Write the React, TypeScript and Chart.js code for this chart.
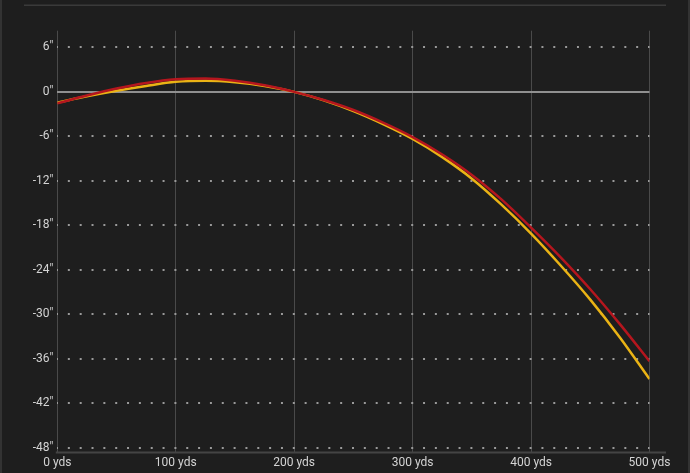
import { Chart, registerables } from 'chart.js';
import { useEffect, useRef } from 'react';

Chart.register(...registerables);

// range in yards, drop in inches
const ranges = [0, 25, 50, 75, 100, 125, 150, 175, 200, 225, 250, 275, 300, 325, 350, 375, 400, 425, 450, 475, 500];
const redDrop = [-1.55, -0.5, 0.45, 1.2, 1.7, 1.8, 1.5, 0.9, 0, -1.1, -2.45, -4.15, -6.1, -8.45, -11.2, -14.5, -18.3, -22.3, -26.6, -31.3, -36.3];
const yellowDrop = [-1.45, -0.6, 0.15, 0.8, 1.35, 1.5, 1.3, 0.8, 0, -1.15, -2.6, -4.35, -6.35, -8.8, -11.7, -15.2, -19.1, -23.4, -28.0, -33.1, -38.7];
const xTicks = [0, 100, 200, 300, 400, 500];
const yTicks = [6, 0, -6, -12, -18, -24, -30, -36, -42, -48];

const bg = '#1e1e1e';
const labelColor = '#d4d4d4';

const framePlugin = {
    id: 'frame',
    afterDraw(chart: Chart) {
        const { ctx, chartArea } = chart;
        ctx.save();
        ctx.fillStyle = '#3a3a3a';
        ctx.fillRect(24, 4.5, 642, 1.5);
        ctx.fillStyle = '#444';
        ctx.fillRect(chartArea.left - 1.5, chartArea.bottom - 0.5, 666 - chartArea.left + 1.5, 2);
        ctx.restore();
    },
};

export default function App() {
    const canvasRef = useRef<HTMLCanvasElement>(null);
    useEffect(() => {
        document.body.style.margin = '0';
        if (canvasRef.current === null) return;
        const ctx = canvasRef.current.getContext('2d');
        if (ctx === null) return;
        const chart = new Chart(ctx, {
            type: 'line',
            data: {
                datasets: [
                    {
                        label: 'red',
                        data: ranges.map((r, i) => ({ x: r, y: redDrop[i] })),
                        borderColor: '#b5161e',
                        borderWidth: 2.5,
                        pointRadius: 0,
                        cubicInterpolationMode: 'monotone',
                    },
                    {
                        label: 'yellow',
                        data: ranges.map((r, i) => ({ x: r, y: yellowDrop[i] })),
                        borderColor: '#eab315',
                        borderWidth: 2.5,
                        pointRadius: 0,
                        cubicInterpolationMode: 'monotone',
                    },
                ],
            },
            plugins: [framePlugin],
            options: {
                animation: false,
                responsive: true,
                maintainAspectRatio: false,
                layout: { padding: { top: 30.7, right: 40.5, left: 0, bottom: 0 } },
                plugins: {
                    legend: { display: false },
                    tooltip: { enabled: false },
                },
                scales: {
                    x: {
                        type: 'linear',
                        min: 0,
                        max: 500,
                        afterBuildTicks: (axis: any) => {
                            axis.ticks = xTicks.map((v) => ({ value: v }));
                        },
                        afterFit: (axis: any) => {
                            axis.height = 21;
                        },
                        ticks: {
                            color: labelColor,
                            font: { family: 'Roboto', size: 12 },
                            padding: 4,
                            maxRotation: 0,
                            callback: (v: any) => `${v} yds`,
                        },
                        grid: { color: '#4a4a4a', lineWidth: 1, drawTicks: false },
                        border: { display: false },
                    },
                    y: {
                        type: 'linear',
                        min: -48.54,
                        max: 8.24,
                        afterBuildTicks: (axis: any) => {
                            axis.ticks = yTicks.map((v) => ({ value: v }));
                        },
                        afterFit: (axis: any) => {
                            axis.width = 57.3;
                        },
                        ticks: {
                            color: labelColor,
                            font: { family: 'Roboto', size: 12 },
                            padding: 4,
                            callback: (v: any) => `${v}"`,
                        },
                        grid: {
                            drawTicks: false,
                            color: (c: any) => (c.tick && c.tick.value === 0 ? '#909090' : '#9a9a9a'),
                            lineWidth: 2,
                        },
                        border: {
                            display: false,
                            dash: (c: any) => (c.tick && c.tick.value === 0 ? [] : [2, 9.84]),
                            dashOffset: 1,
                        },
                    },
                },
            },
        });
        return () => {
            chart.destroy();
        };
    }, []);

    return (
        <div style={{ position: 'fixed', left: 0, top: 0, width: 690, height: 473, background: bg }}>
            <div style={{ position: 'absolute', left: 0, top: 0, width: 2, height: 473, background: '#333' }} />
            <div style={{ position: 'absolute', right: 0, top: 0, width: 2, height: 473, background: '#333' }} />
            <canvas ref={canvasRef}></canvas>
        </div>
    );
}
